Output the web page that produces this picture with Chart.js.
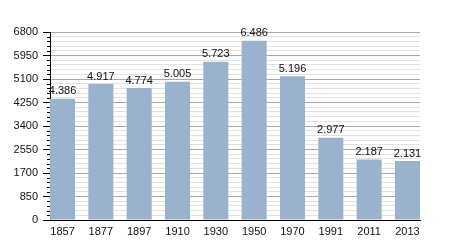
<!DOCTYPE html>
<html>
<head>
<meta charset="utf-8">
<script src="https://cdn.jsdelivr.net/npm/chart.js@4/dist/chart.umd.min.js"></script>
<style>
  html, body { margin: 0; padding: 0; background: #fff; }
  #wrap { width: 450px; height: 250px; }
</style>
</head>
<body>
<div id="wrap"><canvas id="chart"></canvas></div>
<script>
  var years = ["1857", "1877", "1897", "1910", "1930", "1950", "1970", "1991", "2011", "2013"];
  var population = [4386, 4917, 4774, 5005, 5723, 6486, 5196, 2977, 2187, 2131];
  var yMax = 6800;
  var majorStep = 850;
  var minorStep = 170;

  var FONT = "'Liberation Sans', Arial, sans-serif";

  function fmt(v) {
    var s = String(v);
    return s.length > 3 ? s.slice(0, s.length - 3) + "." + s.slice(-3) : s;
  }

  /* ── value labels above the bars ─────────── */
  var valueLabels = {
    id: "valueLabels",
    afterDatasetsDraw: function (chart) {
      var ctx = chart.ctx;
      var meta = chart.getDatasetMeta(0);
      ctx.save();
      ctx.font = "11px " + FONT;
      ctx.fillStyle = "#111";
      ctx.textAlign = "center";
      ctx.textBaseline = "bottom";
      meta.data.forEach(function (bar, i) {
        ctx.fillText(fmt(population[i]), bar.x, bar.y - 2);
      });
      ctx.restore();
    }
  };

  /* ── short minor tick marks on the y axis ── */
  var minorTicks = {
    id: "minorTicks",
    afterDraw: function (chart) {
      var y = chart.scales.y;
      var ctx = chart.ctx;
      var left = chart.chartArea.left;
      ctx.save();
      ctx.strokeStyle = "#000";
      ctx.lineWidth = 1;
      y.ticks.forEach(function (t) {
        if (t.value % majorStep === 0) return;
        var py = Math.round(y.getPixelForValue(t.value)) + 0.5;
        ctx.beginPath();
        ctx.moveTo(left - 3, py);
        ctx.lineTo(left, py);
        ctx.stroke();
      });
      ctx.restore();
    }
  };

  var half = 0.327;

  new Chart(document.getElementById("chart"), {
    type: "bar",
    data: {
      datasets: [{
        data: population.map(function (v, i) { return { x: i, y: v }; }),
        backgroundColor: "#9ab2cd",
        borderWidth: 0,
        barPercentage: 0.653,
        categoryPercentage: 1
      }]
    },
    options: {
      responsive: true,
      maintainAspectRatio: false,
      animation: false,
      layout: { padding: { top: 32, right: 30, left: 0, bottom: 0 } },
      plugins: {
        legend: { display: false },
        tooltip: { enabled: false }
      },
      scales: {
        x: {
          type: "linear",
          offset: false,
          min: -half,
          max: years.length - 1 + half,
          grid: { display: false, drawTicks: false },
          border: { display: true, color: "#000", width: 1 },
          afterBuildTicks: function (scale) {
            scale.ticks = years.map(function (_, i) { return { value: i }; });
          },
          afterFit: function (scale) { scale.height = 30; },
          ticks: {
            autoSkip: false,
            maxRotation: 0,
            padding: 5,
            color: "#111",
            font: { family: FONT, size: 11 },
            callback: function (v) { return years[v]; }
          }
        },
        y: {
          min: 0,
          max: yMax,
          afterFit: function (scale) { scale.width = 50; },
          border: { display: true, color: "#000", width: 1 },
          grid: {
            color: function (c) {
              return c.tick && c.tick.value % majorStep === 0 ? "#a8a8a8" : "#e2e2e2";
            },
            tickColor: function (c) {
              return c.tick && c.tick.value % majorStep === 0 ? "#000" : "rgba(0,0,0,0)";
            },
            tickLength: 7
          },
          ticks: {
            stepSize: minorStep,
            autoSkip: false,
            padding: 5,
            color: "#111",
            font: { family: FONT, size: 11 },
            callback: function (v) { return v % majorStep === 0 ? v : ""; }
          }
        }
      }
    },
    plugins: [valueLabels, minorTicks]
  });
</script>
</body>
</html>
